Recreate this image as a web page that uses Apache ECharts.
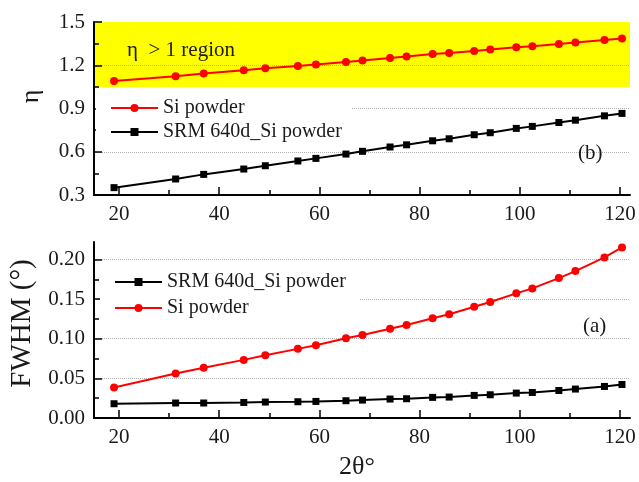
<!DOCTYPE html>
<html><head><meta charset="utf-8">
<script src="https://cdn.jsdelivr.net/npm/echarts@6/dist/echarts.min.js"></script>
<style>html,body{margin:0;padding:0;background:#fff}#c{width:639px;height:482px}</style>
</head><body><div id="c"></div>
<script>
// ---- data ----
const twoTheta = [19.0,31.3,36.9,44.9,49.2,55.7,59.3,65.3,68.6,74.1,77.4,82.6,85.9,90.9,94.1,99.3,102.5,107.8,111.1,116.9,120.4];
const etaSi   = [1.090,1.124,1.143,1.166,1.179,1.195,1.205,1.223,1.233,1.251,1.260,1.278,1.285,1.299,1.309,1.325,1.332,1.348,1.357,1.375,1.385];
const etaSRM  = [0.351,0.411,0.443,0.480,0.503,0.536,0.554,0.584,0.603,0.633,0.648,0.676,0.690,0.718,0.732,0.762,0.776,0.803,0.819,0.849,0.866];
const fwhmSi  = [0.0385,0.0561,0.0633,0.0733,0.0792,0.0872,0.0918,0.1006,0.1048,0.1127,0.1174,0.1258,0.1308,0.1404,0.1463,0.1572,0.1635,0.1765,0.1853,0.2025,0.2151];
const fwhmSRM = [0.0180,0.0189,0.0189,0.0196,0.0201,0.0205,0.0209,0.0218,0.0226,0.0239,0.0243,0.0260,0.0264,0.0285,0.0293,0.0314,0.0322,0.0347,0.0365,0.0398,0.0423];
const xTicks = [20,40,60,80,100,120];
const xMinor = [30,50,70,90,110];
const etaTicks = [0.3,0.6,0.9,1.2,1.5];
const etaMinor = [0.45,0.75,1.05,1.35];
const fwhmTicks = [0,0.05,0.1,0.15,0.2];
const fwhmMinor = [0.025,0.075,0.125,0.175];
const etaGrid = [0.6,0.9,1.2];
const fwhmGrid = [0.05,0.1,0.15,0.2];
const yellowBand = [1.05,1.5];
const nameSi = 'Si powder';
const nameSRM = 'SRM 640d_Si powder';

// ---- styling ----
const F = '"Liberation Serif","Times New Roman",serif';
const TXT = '#1a1a1a';
const X_MIN = 15, X_MAX = 122;

function xMain(g, name) {
  const a = {type:'value', gridIndex:g, min:X_MIN, max:X_MAX, position:'bottom', z:5,
    axisLine:{show:true,onZero:false,lineStyle:{color:'#000',width:2}},
    axisTick:{show:true,inside:true,length:8,customValues:xTicks,lineStyle:{color:'#000',width:1.5}},
    axisLabel:{show:true,customValues:xTicks,margin:9,fontSize:21,fontFamily:F,color:TXT},
    splitLine:{show:false}};
  if (name) {
    a.name = name; a.nameLocation = 'middle'; a.nameGap = 36;
    a.nameTextStyle = {fontSize:26,fontFamily:F,color:TXT,padding:[0,10,0,0]};
  }
  return a;
}
function xMinorAx(g) {
  return {type:'value', gridIndex:g, min:X_MIN, max:X_MAX, position:'bottom', z:5,
    axisLine:{show:false,onZero:false},
    axisTick:{show:true,inside:true,length:5,customValues:xMinor,lineStyle:{color:'#000',width:1.5}},
    axisLabel:{show:false}, splitLine:{show:false}};
}
function yMain(g, min, max, ticks, dec, name, nsize, gap, shift) {
  return {type:'value', gridIndex:g, min:min, max:max, position:'left', z:5,
    name:name, nameLocation:'middle', nameGap:gap,
    nameTextStyle:{fontSize:nsize,fontFamily:F,color:TXT,padding:[0,0,0,shift]},
    axisLine:{show:true,onZero:false,lineStyle:{color:'#000',width:2}},
    axisTick:{show:true,inside:true,length:8,customValues:ticks,lineStyle:{color:'#000',width:1.5}},
    axisLabel:{show:true,customValues:ticks,margin:9,fontSize:21,fontFamily:F,color:TXT,
      formatter:v=>Number(v).toFixed(dec)},
    splitLine:{show:false}};
}
function yMinorAx(g, min, max, ticks) {
  return {type:'value', gridIndex:g, min:min, max:max, position:'left', z:5,
    axisLine:{show:false,onZero:false},
    axisTick:{show:true,inside:true,length:5,customValues:ticks,lineStyle:{color:'#000',width:1.5}},
    axisLabel:{show:false}, splitLine:{show:false}};
}
function gridLines(vals) {
  return {silent:true, symbol:['none','none'], z:2, animation:false,
    label:{show:false},
    lineStyle:{color:'#b0b0b0',type:'dotted',width:1},
    emphasis:{disabled:true},
    data:vals.map(v=>({yAxis:v}))};
}
function ser(name, xi, yi, ys, color, symbol, size, extra) {
  const s = {type:'line', name:name, xAxisIndex:xi, yAxisIndex:yi, z:3,
    data:twoTheta.map((x,i)=>[x, ys[i]]),
    symbol:symbol, symbolSize:size, showSymbol:true,
    lineStyle:{color:color,width:2}, itemStyle:{color:color},
    emphasis:{disabled:true}, animation:false};
  return Object.assign(s, extra||{});
}

const chart = echarts.init(document.getElementById('c'), null, {renderer:'canvas'});
chart.setOption({
  backgroundColor:'#fff',
  animation:false,
  grid:[
    {left:94, right:9, top:22, height:173},
    {left:94, right:9, top:242, height:176}
  ],
  xAxis:[xMain(0), xMinorAx(0), xMain(1,'2θ°'), xMinorAx(1)],
  yAxis:[
    yMain(0, etaTicks[0], etaTicks[etaTicks.length-1], etaTicks, 1, 'η', 26, 50, 24),
    yMinorAx(0, etaTicks[0], etaTicks[etaTicks.length-1], etaMinor),
    yMain(1, 0, 0.222, fwhmTicks, 2, 'FWHM (°)', 29, 55, 13),
    yMinorAx(1, 0, 0.222, fwhmMinor)
  ],
  legend:[
    {data:[nameSi,nameSRM], orient:'vertical', left:96, top:92, z:6,
     backgroundColor:'#fff', padding:[6,10,6,14], itemGap:4,
     itemWidth:47, itemHeight:10, selectedMode:false,
     textStyle:{fontSize:20,fontFamily:F,color:TXT,lineHeight:20}},
    {data:[nameSRM,nameSi], orient:'vertical', left:100, top:266, z:6,
     backgroundColor:'#fff', padding:[6,14,6,14], itemGap:6,
     itemWidth:47, itemHeight:10, selectedMode:false,
     textStyle:{fontSize:20,fontFamily:F,color:TXT,lineHeight:20}}
  ],
  series:[
    ser(nameSi, 0, 0, etaSi, '#ff0000', 'circle', 8, {
      markArea:{silent:true, z:1, animation:false, label:{show:false},
        itemStyle:{color:'#ffff00',opacity:1}, emphasis:{disabled:true},
        data:[[{yAxis:yellowBand[0]},{yAxis:yellowBand[1]}]]},
      markLine:gridLines(etaGrid)}),
    ser(nameSRM, 0, 0, etaSRM, '#000000', 'rect', 7),
    ser(nameSRM, 2, 2, fwhmSRM, '#000000', 'rect', 7, {markLine:gridLines(fwhmGrid)}),
    ser(nameSi, 2, 2, fwhmSi, '#ff0000', 'circle', 8)
  ],
  graphic:[
    {type:'text', x:127, y:50, z:10, style:{text:'η  > 1 region', font:'21px '+F, fill:TXT, verticalAlign:'middle'}},
    {type:'text', x:578, y:153, z:10, style:{text:'(b)', font:'21px '+F, fill:TXT, verticalAlign:'middle'}},
    {type:'text', x:583, y:326, z:10, style:{text:'(a)', font:'21px '+F, fill:TXT, verticalAlign:'middle'}}
  ]
});
</script></body></html>
